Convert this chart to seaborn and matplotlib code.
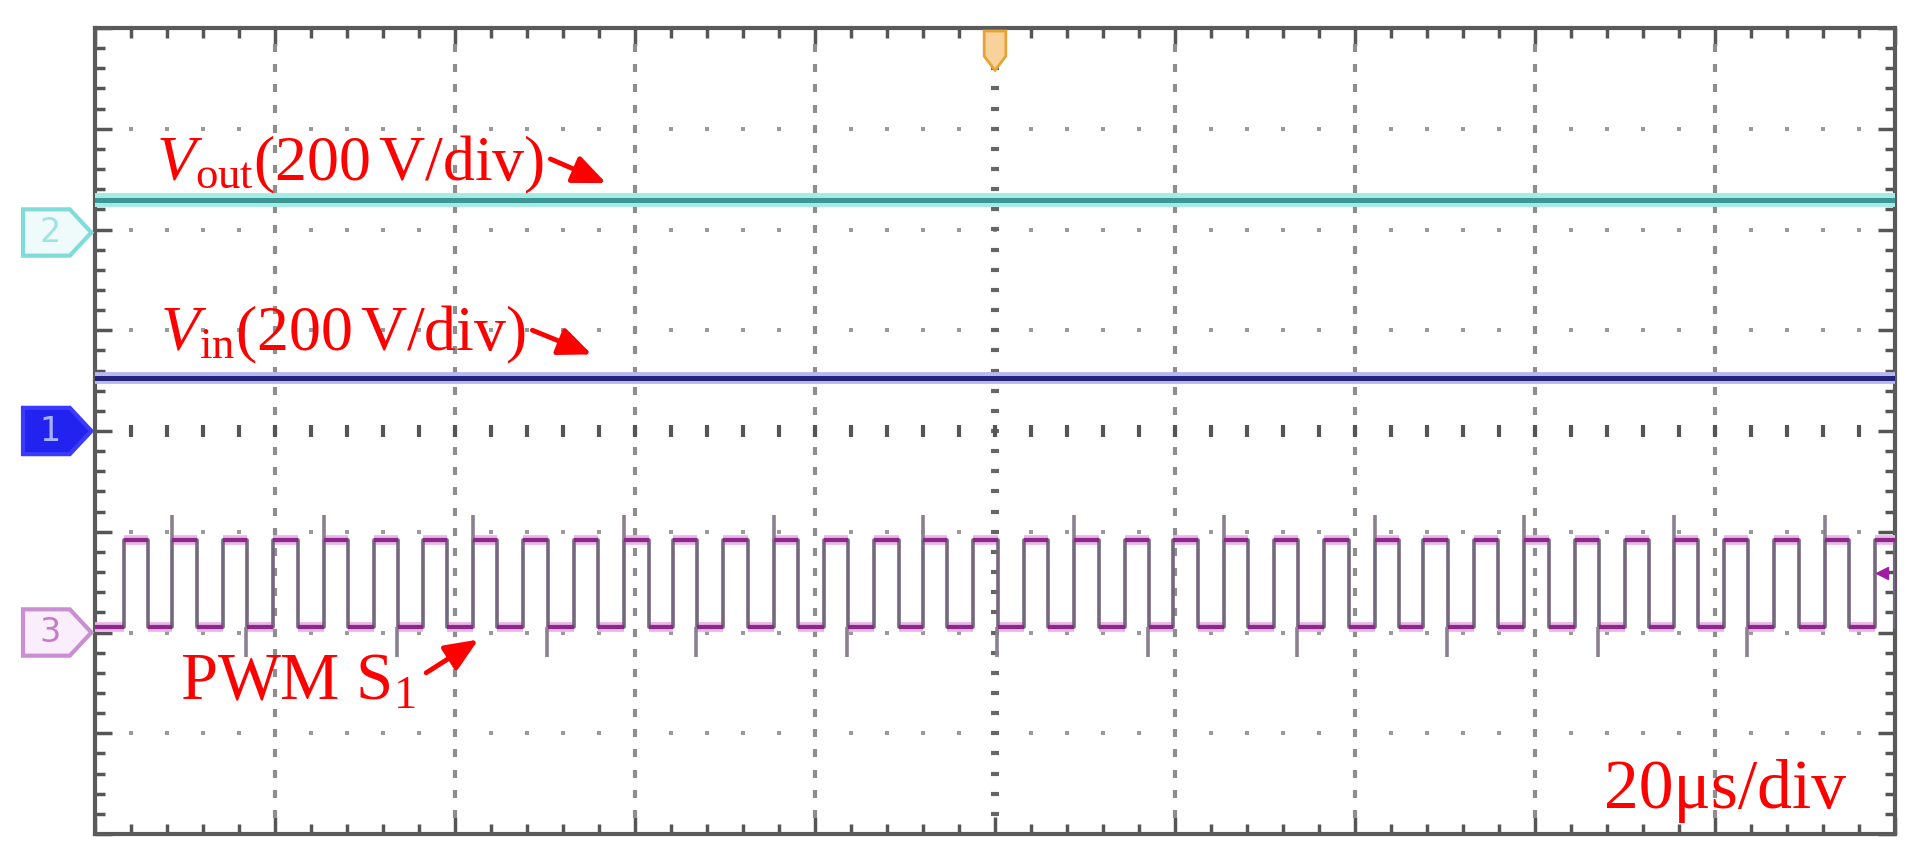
import numpy as np
import matplotlib
matplotlib.use("Agg")
import matplotlib.pyplot as plt
from matplotlib.patches import Polygon
import seaborn as sns

# Scope screen: 10 div wide, 8 div tall, 0 = screen centre.
# Trace levels (div)
vout_t = [0.0, 10.0]
vout_level = [2.29, 2.29]
vin_t = [0.0, 10.0]
vin_level = [0.53, 0.53]

# PWM S1: rising edges (div), pulse width, levels
pwm_rise = [0.16, 0.43, 0.71, 0.99, 1.27, 1.55, 1.82, 2.10, 2.38, 2.66, 2.94, 3.21,
            3.49, 3.77, 4.05, 4.33, 4.60, 4.88, 5.16, 5.44, 5.72, 5.99, 6.27, 6.55,
            6.83, 7.11, 7.38, 7.66, 7.94, 8.22, 8.50, 8.77, 9.05, 9.33, 9.61, 9.89]
pwm_width = 0.135
pwm_high = -1.08
pwm_low = -1.95
spike_up_t = [0.43, 1.27, 2.10, 2.94, 3.77, 4.60, 5.44, 6.27, 7.11, 7.94, 8.77, 9.61]
spike_down_t = [0.84, 1.68, 2.51, 3.34, 4.18, 5.01, 5.85, 6.68, 7.51, 8.35, 9.18]
spike_up_top = -0.83
spike_down_bottom = -2.24

# channel ground markers and trigger level
channel_ids = ["2", "1", "3"]
channel_offsets = [1.97, 0.0, -2.0]
trig_level = -1.41

sns.set_theme(style="white")
plt.rcParams['font.family'] = ['Liberation Serif', 'DejaVu Serif']
plt.rcParams['mathtext.fontset'] = 'custom'
plt.rcParams['mathtext.rm'] = 'Liberation Serif'
plt.rcParams['mathtext.it'] = 'Liberation Serif:italic'

fig = plt.figure(figsize=(19.2, 8.64), dpi=100)
fig.patch.set_facecolor("white")
ax = fig.add_axes([95 / 1920, 30 / 864, 1800 / 1920, 806 / 864])
ax.set_xlim(0, 10)
ax.set_ylim(-4, 4)
ax.set_facecolor("white")

# frame and ticks
for s in ax.spines.values():
    s.set_visible(True)
    s.set_color("#5a5a5a")
    s.set_linewidth(3)
ax.set_xticks(np.arange(0, 10.01, 1))
ax.set_xticks(np.arange(0, 10.01, 0.2), minor=True)
ax.set_yticks(np.arange(-4, 4.01, 1))
ax.set_yticks(np.arange(-4, 4.01, 0.2), minor=True)
ax.tick_params(which="both", direction="in", top=True, right=True, bottom=True, left=True,
               labelbottom=False, labelleft=False, color="#555555", width=2.5)
ax.tick_params(which="major", length=12)
ax.tick_params(which="minor", length=7)

# dotted graticule
fine_x = np.arange(0.2, 9.9, 0.2)
fine_y = np.arange(-3.8, 3.9, 0.2)
for gy in [-3, -2, -1, 1, 2, 3]:
    ax.plot(fine_x, np.full_like(fine_x, gy), ls="none", marker="s", ms=3.2,
            color="#9a9a9a", mew=0, zorder=1)
for gx in [1, 2, 3, 4, 6, 7, 8, 9]:
    ax.plot(np.full_like(fine_y, gx), fine_y, ls="none", marker="|", ms=5.5,
            mew=3, color="#8e8e8e", zorder=1)
ax.plot(np.full_like(fine_y, 5), fine_y, ls="none", marker="_", ms=6, mew=3,
        color="#666666", zorder=1)
ax.plot(fine_x, np.zeros_like(fine_x), ls="none", marker="|", ms=8, mew=3,
        color="#555555", zorder=1)

# Vout and Vin traces
sns.lineplot(x=vout_t, y=vout_level, ax=ax, color="#a4ebe6", lw=10, zorder=3)
sns.lineplot(x=vout_t, y=vout_level, ax=ax, color="#3a9793", lw=3.6, zorder=4)
sns.lineplot(x=vin_t, y=vin_level, ax=ax, color="#b8b8ec", lw=8.5, zorder=3)
sns.lineplot(x=vin_t, y=vin_level, ax=ax, color="#22237a", lw=3.6, zorder=4)

# PWM trace
xs, ys = [0.0], [pwm_low]
hi_a, hi_b, lo_a, lo_b = [], [], [0.0], []
for r in pwm_rise:
    f = min(r + pwm_width, 10.0)
    xs += [r, r, f, f]
    ys += [pwm_low, pwm_high, pwm_high, pwm_low]
    lo_b.append(r)
    hi_a.append(r)
    hi_b.append(f)
    lo_a.append(f)
lo_b.append(10.0)
sns.lineplot(x=xs, y=ys, ax=ax, sort=False, estimator=None, color="#75677d",
             lw=2.6, zorder=4)
ax.vlines(spike_up_t, pwm_high, spike_up_top, color="#8a8090", lw=2.6, zorder=4)
ax.vlines(spike_down_t, spike_down_bottom, pwm_low, color="#8a8090", lw=2.6, zorder=4)
ax.hlines([pwm_high] * len(hi_a), hi_a, hi_b, color="#ecb4ec", lw=7, zorder=3)
ax.hlines([pwm_low] * len(lo_a), lo_a, lo_b, color="#ecb4ec", lw=7, zorder=3)
ax.hlines([pwm_high] * len(hi_a), hi_a, hi_b, color="#8a2a86", lw=3, zorder=5)
ax.hlines([pwm_low] * len(lo_a), lo_a, lo_b, color="#8a2a86", lw=3, zorder=5)

# channel markers on the left edge
styles = [("#effbfb", "#80dcd8", "#9fe4e0"),
          ("#2323f0", "#3b3bff", "#a9b2ff"),
          ("#fbeefc", "#c98fd2", "#c27cc9")]
for cid, off, (fc, ec, tc) in zip(channel_ids, channel_offsets, styles):
    verts = [(-0.40, off - 0.23), (-0.14, off - 0.23), (-0.02, off),
             (-0.14, off + 0.23), (-0.40, off + 0.23)]
    ax.add_patch(Polygon(verts, closed=True, facecolor=fc, edgecolor=ec, lw=3,
                         clip_on=False, zorder=6))
    ax.text(-0.25, off, cid, color=tc, fontsize=24, family="DejaVu Sans",
            ha="center", va="center", clip_on=False, zorder=7)

# trigger position and level markers
ax.add_patch(Polygon([(4.94, 3.97), (5.06, 3.97), (5.06, 3.72), (5.0, 3.58), (4.94, 3.72)],
                     closed=True, facecolor="#f7d29a", edgecolor="#e9a235", lw=2,
                     clip_on=False, zorder=6))
ax.plot([9.93], [trig_level], marker="<", ms=9, color="#a01ca0", zorder=6)

# annotations
red = "#ff0000"
ax.text(0.34, 2.49, r"$V_{\mathrm{out}}$(200$\,$V/div)", color=red, fontsize=46,
        va="baseline", zorder=8)
ax.text(0.36, 0.80, r"$V_{\mathrm{in}}$(200$\,$V/div)", color=red, fontsize=46,
        va="baseline", zorder=8)
ax.text(0.47, -2.67, r"PWM $\mathrm{S}_{1}$", color=red, fontsize=48,
        va="baseline", zorder=8)
ax.text(9.73, -3.74, "20μs/div", color=red, fontsize=50, ha="right",
        va="baseline", zorder=8)

arrow = dict(arrowstyle="-|>,head_length=0.8,head_width=0.34", color=red, lw=3.5,
             mutation_scale=25, shrinkA=0, shrinkB=0)
ax.annotate("", xy=(2.84, 2.46), xytext=(2.53, 2.70), arrowprops=arrow, zorder=8)
ax.annotate("", xy=(2.76, 0.76), xytext=(2.43, 1.00), arrowprops=arrow, zorder=8)
ax.annotate("", xy=(2.13, -2.07), xytext=(1.84, -2.40), arrowprops=arrow, zorder=8)

fig.savefig("out.png", dpi=100)
